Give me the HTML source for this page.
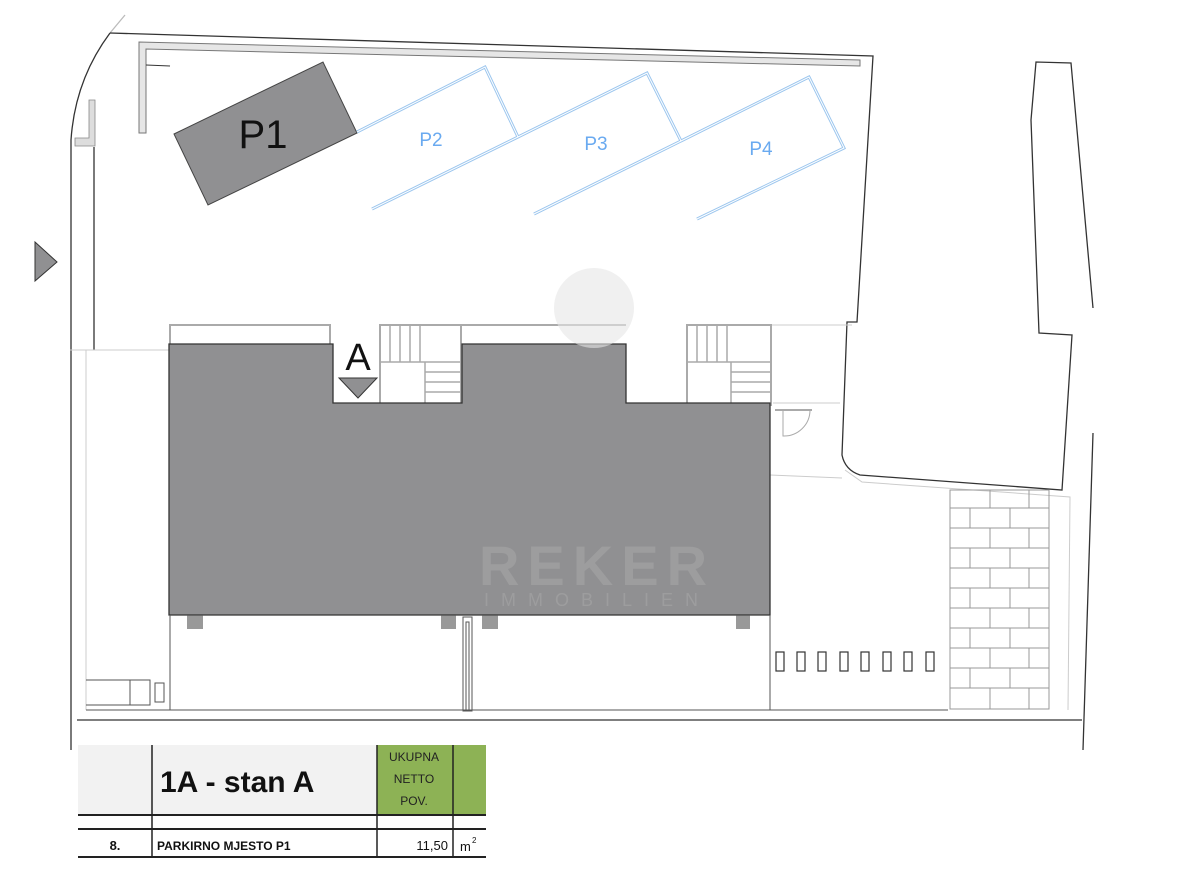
<!DOCTYPE html>
<html><head><meta charset="utf-8"><style>
html,body{margin:0;padding:0;background:#fff;width:1198px;height:878px;overflow:hidden}
svg{position:absolute;left:0;top:0}
</style></head><body>
<svg width="1198" height="878" viewBox="0 0 1198 878" xmlns="http://www.w3.org/2000/svg" font-family="Liberation Sans, sans-serif">
<!-- site boundary -->
<g fill="none" stroke="#333" stroke-width="1.3">
<path d="M125,15 L110,33"  stroke="#bbb"/>
<path d="M110,33 L873,56 L857,322 L847,322 L842,455 Q845,470 860,475 L1062,490 L1072,335 L1039,333 L1031,120 L1036,62 L1071,63 L1093,308"/>
<path d="M110,33 Q75,80 71,140 L71,750"/>
<path d="M94,147 L94,350"/>
<path d="M1093,433 L1083,750"/>
<path d="M77,720 L1082,720"/>
</g>
<!-- top wall -->
<path d="M139,133 L139,42 L860,60 L860,66 L146,49 L146,133 Z" fill="#e6e6e6" stroke="#777" stroke-width="1"/>
<path d="M89,100 L95,100 L95,146 L75,146 L75,138 L89,138 Z" fill="#ddd" stroke="#888" stroke-width="0.8"/>
<path d="M146,65 L170,66" stroke="#333" stroke-width="1"/>
<!-- light inner lines -->
<g fill="none" stroke="#ccc" stroke-width="1">
<path d="M70,350 L169,350"/><path d="M86,350 L86,710"/>
<path d="M770,325 L852,325"/><path d="M770,475 L842,478"/><path d="M773,403 L840,403"/>
<path d="M845,470 L862,482 L1070,497 L1068,710"/>
</g>
<!-- parking P1 -->
<polygon points="174,134 323,62 357,133 208,205" fill="#909092" stroke="#444" stroke-width="1"/>
<text x="263" y="148" font-size="40" text-anchor="middle" fill="#111">P1</text>
<!-- P2-P4 -->
<g fill="none" stroke="#9cc6ee" stroke-width="3"><path d="M357,132 L485,67 L518,137 L372,209 M518,137 L647,73 L681,141 L534,214 M681,141 L809,77 L844,148 L697,219"/></g>
<g fill="none" stroke="#fff" stroke-width="1"><path d="M357,132 L485,67 L518,137 L372,209 M518,137 L647,73 L681,141 L534,214 M681,141 L809,77 L844,148 L697,219"/></g>
<g fill="#6aaaf0" font-size="19" text-anchor="middle"><text x="431" y="146">P2</text><text x="596" y="150">P3</text><text x="761" y="155">P4</text></g>
<!-- left triangle -->
<polygon points="35,242 57,262 35,281" fill="#909092" stroke="#333" stroke-width="1"/>
<!-- balconies/stairs outlines -->
<g fill="none" stroke="#aaa" stroke-width="2">
<rect x="170" y="325" width="160" height="20"/>
<rect x="380" y="325" width="81" height="80"/>
<rect x="687" y="325" width="84" height="80"/>
<path d="M462,325 L626,325"/>
</g>
<g stroke="#aaa" stroke-width="1.5">
<path d="M390,325V362M400,325V362M410,325V362M420,325V362M380,362H461M425,362V405M425,372H461M425,382H461M425,392H461"/>
<path d="M697,325V362M707,325V362M717,325V362M727,325V362M687,362H771M731,362V405M731,372H771M731,382H771M731,392H771"/>
</g>
<!-- building -->
<polygon points="169,344 333,344 333,403 462,403 462,344 626,344 626,403 770,403 770,615 169,615" fill="#909092" stroke="#333" stroke-width="1.3"/>
<!-- watermark -->
<circle cx="594" cy="308" r="40" fill="#e6e6e6" opacity="0.6"/>
<g fill="#aaa" opacity="0.5"><text x="597" y="585" font-size="56" font-weight="bold" text-anchor="middle" letter-spacing="8">REKER</text>
<text x="597" y="606" font-size="18" text-anchor="middle" letter-spacing="12">IMMOBILIEN</text></g>
<text x="358" y="370" font-size="38" text-anchor="middle" fill="#111">A</text>
<polygon points="339,378 377,378 358,398" fill="#909092" stroke="#333" stroke-width="1"/>
<!-- lower area -->
<g fill="none" stroke="#555" stroke-width="1">
<path d="M170,615 V710 M770,615 V710 M86,710 H948"/>
<rect x="463" y="617" width="9" height="94"/><rect x="466" y="622" width="3" height="88"/>
<path d="M86,680 H130 V705 H86"/><rect x="130" y="680" width="20" height="25"/><rect x="155" y="683" width="9" height="19"/>
<path d="M775,410 L812,410"/><path d="M783,410 L783,436 A26,26 0 0 0 810,410" stroke="#aaa"/>
</g>
<g fill="none" stroke="#333" stroke-width="1.2">
<rect x="776" y="652" width="8" height="19"/><rect x="797" y="652" width="8" height="19"/><rect x="818" y="652" width="8" height="19"/><rect x="840" y="652" width="8" height="19"/><rect x="861" y="652" width="8" height="19"/><rect x="883" y="652" width="8" height="19"/><rect x="904" y="652" width="8" height="19"/><rect x="926" y="652" width="8" height="19"/>
</g>
<g fill="#555"><rect x="187" y="615" width="16" height="14" opacity="0.6"/><rect x="441" y="615" width="15" height="14" opacity="0.6"/><rect x="482" y="615" width="16" height="14" opacity="0.6"/><rect x="736" y="615" width="14" height="14" opacity="0.6"/></g>
<!-- bricks -->
<g fill="none" stroke="#999" stroke-width="1">
<rect x="950" y="490" width="99" height="219"/>
<path d="M950,508H1049M950,528H1049M950,548H1049M950,568H1049M950,588H1049M950,608H1049M950,628H1049M950,648H1049M950,668H1049M950,688H1049"/>
<path d="M990,490V508M1029,490V508M970,508V528M1010,508V528M990,528V548M1029,528V548M970,548V568M1010,548V568M990,568V588M1029,568V588M970,588V608M1010,588V608M990,608V628M1029,608V628M970,628V648M1010,628V648M990,648V668M1029,648V668M970,668V688M1010,668V688M990,688V709M1029,688V709"/>
</g>
<!-- table -->
<rect x="78" y="745" width="299" height="70" fill="#f2f2f2"/>
<rect x="377" y="745" width="109" height="70" fill="#8db255"/>
<g stroke="#222" fill="none">
<path d="M78,815H486M78,829H486M78,857H486" stroke-width="2"/>
<path d="M152,745V857M377,745V857M453,745V857" stroke-width="1.5"/>
</g>
<text x="160" y="792" font-size="30" font-weight="bold" fill="#111">1A - stan A</text>
<g font-size="12" fill="#222" text-anchor="middle"><text x="414" y="761">UKUPNA</text><text x="414" y="783">NETTO</text><text x="414" y="805">POV.</text></g>
<text x="115" y="850" font-size="13" font-weight="bold" text-anchor="middle" fill="#111">8.</text>
<text x="157" y="850" font-size="12" font-weight="bold" fill="#111">PARKIRNO MJESTO P1</text>
<text x="448" y="850" font-size="13" text-anchor="end" fill="#111">11,50</text>
<text x="460" y="851" font-size="13" fill="#111">m</text><text x="472" y="843" font-size="8" fill="#111">2</text>
</svg>
</body></html>
